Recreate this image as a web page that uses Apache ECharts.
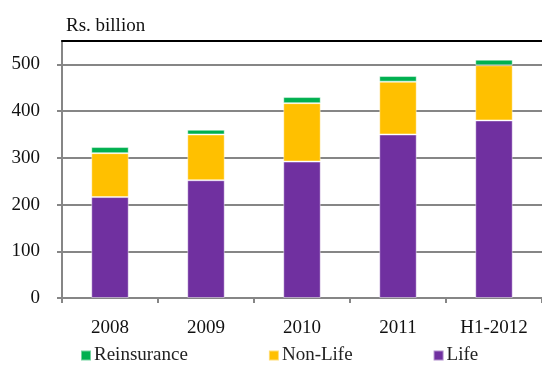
<!DOCTYPE html>
<html><head><meta charset="utf-8">
<script src="https://cdn.jsdelivr.net/npm/echarts@6/dist/echarts.min.js"></script>
<style>html,body{margin:0;padding:0;background:#fff}#c{width:542px;height:370px}</style>
</head><body><div id="c"></div>
<script>
const categories = ['2008', '2009', '2010', '2011', 'H1-2012'];
const life = [216, 252, 292, 350, 380];
const nonLife = [94, 98, 125, 113, 118];
const reinsurance = [13, 10, 13, 12, 12];
const yTicks = { min: 0, max: 550, interval: 100 };
const unitLabel = 'Rs. billion';

const font = 'Liberation Serif';
const chart = echarts.init(document.getElementById('c'));
const barStyle = c => ({ color: c, borderColor: 'rgba(255,255,255,0.45)', borderWidth: 1 });
chart.setOption({
  animation: false,
  grid: { left: 62, right: 0, top: 41, bottom: 72 },
  legend: {
    left: 75, top: 341, itemWidth: 10, itemHeight: 10, itemGap: 80,
    icon: 'rect',
    textStyle: { fontFamily: font, fontSize: 19, color: '#222', padding: [0, 0, 0, -2] },
    data: ['Reinsurance', 'Non-Life', 'Life']
  },
  xAxis: [{
    type: 'category', data: categories,
    axisLine: { lineStyle: { color: '#868686', width: 2 } },
    axisTick: { show: true, length: 5, lineStyle: { color: '#868686', width: 2 } },
    axisLabel: { fontFamily: font, fontSize: 19, color: '#111', margin: 21 }
  }, {
    type: 'category', data: categories, position: 'top',
    axisLine: { lineStyle: { color: '#000', width: 2 } },
    axisTick: { show: false }, axisLabel: { show: false }
  }],
  yAxis: {
    type: 'value', min: yTicks.min, max: yTicks.max, interval: yTicks.interval,
    name: unitLabel, nameLocation: 'end', nameGap: 5,
    nameTextStyle: { fontFamily: font, fontSize: 19, color: '#111', align: 'left', padding: [0, 0, 0, 4] },
    axisLine: { show: true, lineStyle: { color: '#868686', width: 2 } },
    axisTick: { show: true, length: 5, lineStyle: { color: '#868686', width: 2 } },
    axisLabel: { fontFamily: font, fontSize: 19, color: '#111', margin: 22, showMaxLabel: false },
    splitLine: { lineStyle: { color: '#868686', width: 2 } }
  },
  series: [
    { name: 'Life', type: 'bar', stack: 't', data: life, barWidth: '39%', itemStyle: barStyle('#7030A0') },
    { name: 'Non-Life', type: 'bar', stack: 't', data: nonLife, itemStyle: barStyle('#FFC000') },
    { name: 'Reinsurance', type: 'bar', stack: 't', data: reinsurance, itemStyle: barStyle('#00B050') }
  ]
});
</script></body></html>
